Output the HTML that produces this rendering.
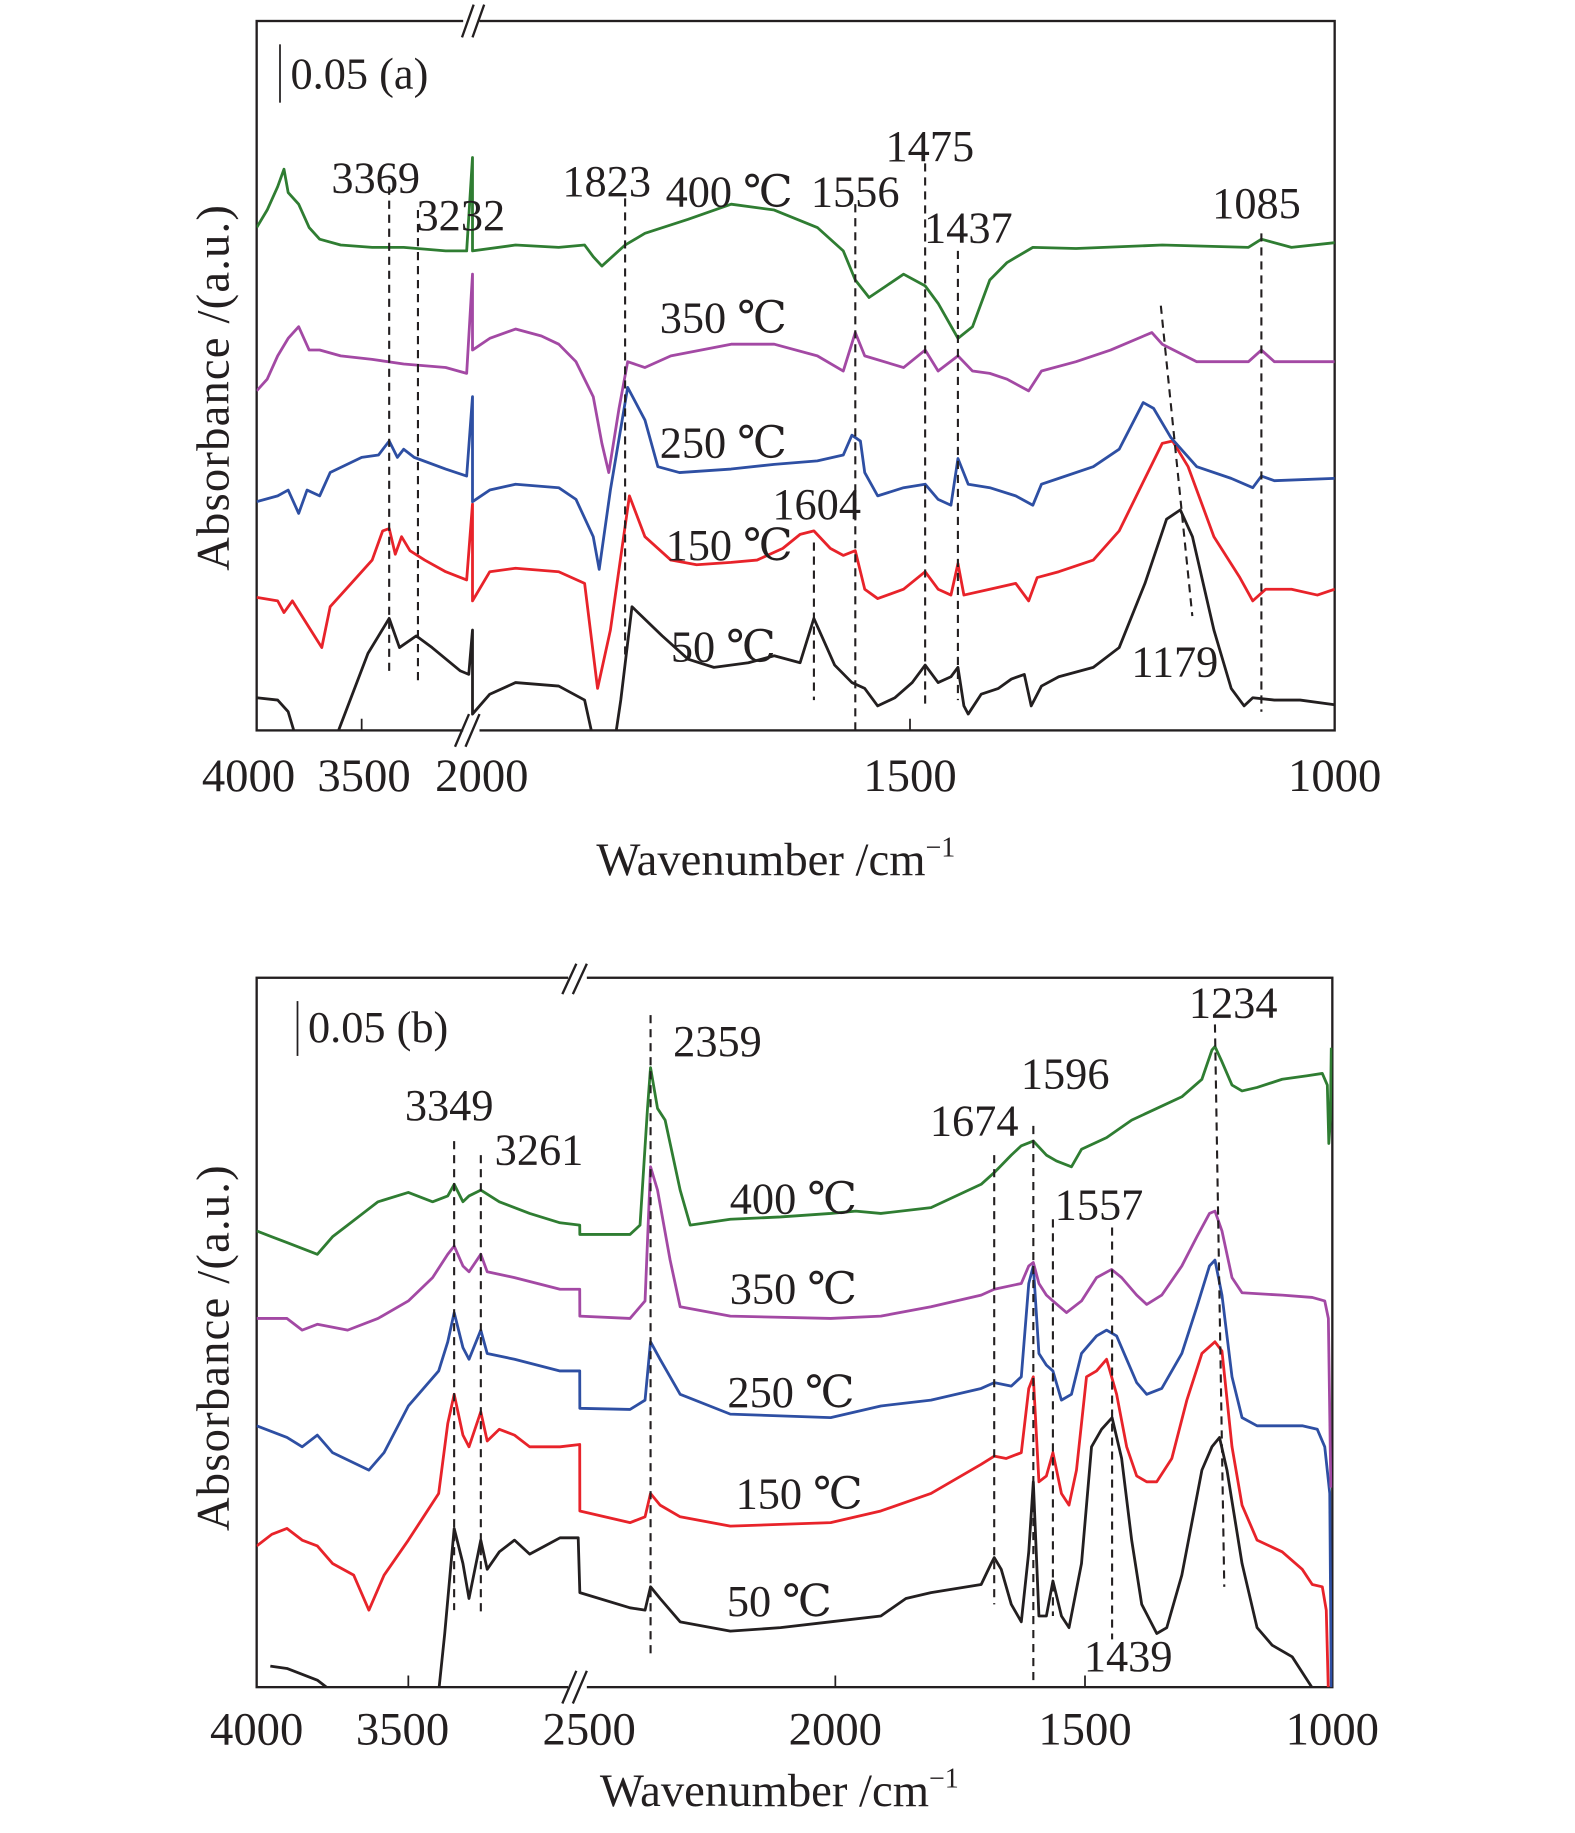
<!DOCTYPE html>
<html><head><meta charset="utf-8"><style>
html,body{margin:0;padding:0;background:#fff}
svg{display:block}
text{font-family:"Liberation Serif","DejaVu Serif",serif;fill:#231f20}
</style></head><body>
<svg id="fig" xmlns="http://www.w3.org/2000/svg" width="1575" height="1833" viewBox="0 0 1350 1571" preserveAspectRatio="none">
<defs>
<clipPath id="clipA"><rect x="220" y="18" width="924" height="608"/></clipPath>
<clipPath id="clipB"><rect x="220" y="838" width="922" height="608"/></clipPath>
</defs>
<g id="panelA">
<rect x="220" y="18" width="924" height="608" fill="none" stroke="#231f20" stroke-width="2"/>
<g id="seriesA" clip-path="url(#clipA)"></g>
<g id="dashA"></g>
<line x1="310" y1="626" x2="310" y2="616" stroke="#231f20" stroke-width="1.5"/>
<line x1="780" y1="626" x2="780" y2="616" stroke="#231f20" stroke-width="1.5"/>
<g><rect x="397" y="12" width="14" height="12" fill="#fff"/><line x1="396" y1="32" x2="406" y2="4" stroke="#231f20" stroke-width="2"/><line x1="405" y1="32" x2="415" y2="4" stroke="#231f20" stroke-width="2"/></g>
<g><rect x="397" y="620" width="14" height="12" fill="#fff"/><line x1="390" y1="640" x2="402" y2="612" stroke="#231f20" stroke-width="2"/><line x1="399" y1="640" x2="411" y2="612" stroke="#231f20" stroke-width="2"/></g>
<line x1="240" y1="38" x2="240" y2="88" stroke="#231f20" stroke-width="1.5"/>
<text x="249" y="76" font-size="38">0.05 (a)</text>
<g font-size="40" text-anchor="middle">
<text x="213" y="678">4000</text>
<text x="312" y="678">3500</text>
<text x="413" y="678">2000</text>
<text x="780" y="678">1500</text>
<text x="1144" y="678">1000</text>
</g>
<text x="665" y="750" font-size="40" text-anchor="middle">Wavenumber /cm<tspan font-size="24" dy="-16">−1</tspan></text>
<text transform="translate(196,332) rotate(-90)" font-size="40" text-anchor="middle" letter-spacing="1">Absorbance /(a.u.)</text>
<g font-size="38" text-anchor="middle">
<text x="322" y="165">3369</text>
<text x="395" y="197">3232</text>
<text x="520" y="168">1823</text>
<text x="625" y="177">400 ℃</text>
<text x="733" y="177">1556</text>
<text x="797" y="138">1475</text>
<text x="830" y="208">1437</text>
<text x="1077" y="187">1085</text>
<text x="620" y="285">350 ℃</text>
<text x="620" y="392">250 ℃</text>
<text x="700" y="445">1604</text>
<text x="625" y="480">150 ℃</text>
<text x="620" y="567">50 ℃</text>
<text x="1007" y="580">1179</text>
</g>
</g>
<g id="panelB">
<rect x="220" y="838" width="922" height="608" fill="none" stroke="#231f20" stroke-width="2"/>
<g id="seriesB" clip-path="url(#clipB)"></g>
<g id="dashB"></g>
<line x1="350" y1="1446" x2="350" y2="1436" stroke="#231f20" stroke-width="1.5"/>
<line x1="716" y1="1446" x2="716" y2="1436" stroke="#231f20" stroke-width="1.5"/>
<line x1="930" y1="1446" x2="930" y2="1436" stroke="#231f20" stroke-width="1.5"/>
<g><rect x="487" y="832" width="16" height="12" fill="#fff"/><line x1="482" y1="852" x2="494" y2="826" stroke="#231f20" stroke-width="2"/><line x1="491" y1="852" x2="503" y2="826" stroke="#231f20" stroke-width="2"/></g>
<g><rect x="487" y="1440" width="16" height="12" fill="#fff"/><line x1="482" y1="1460" x2="494" y2="1432" stroke="#231f20" stroke-width="2"/><line x1="491" y1="1460" x2="503" y2="1432" stroke="#231f20" stroke-width="2"/></g>
<line x1="255" y1="858" x2="255" y2="905" stroke="#231f20" stroke-width="1.5"/>
<text x="264" y="893" font-size="38">0.05 (b)</text>
<g font-size="40" text-anchor="middle">
<text x="220" y="1495">4000</text>
<text x="345" y="1495">3500</text>
<text x="505" y="1495">2500</text>
<text x="716" y="1495">2000</text>
<text x="930" y="1495">1500</text>
<text x="1142" y="1495">1000</text>
</g>
<text x="668" y="1548" font-size="40" text-anchor="middle">Wavenumber /cm<tspan font-size="24" dy="-16">−1</tspan></text>
<text transform="translate(196,1155) rotate(-90)" font-size="40" text-anchor="middle" letter-spacing="1">Absorbance /(a.u.)</text>
<g font-size="38" text-anchor="middle">
<text x="385" y="960">3349</text>
<text x="462" y="998">3261</text>
<text x="615" y="905">2359</text>
<text x="835" y="973">1674</text>
<text x="913" y="933">1596</text>
<text x="942" y="1045">1557</text>
<text x="967" y="1432">1439</text>
<text x="1057" y="872">1234</text>
<text x="680" y="1040">400 ℃</text>
<text x="680" y="1117">350 ℃</text>
<text x="678" y="1206">250 ℃</text>
<text x="685" y="1293">150 ℃</text>
<text x="668" y="1385">50 ℃</text>
</g>
</g>
</svg>
<script>
// Absorbance values in units of 0.001 a.u. above each panel's baseline
const a50_w=[4000,3900,3850,3800,3700,3610,3470,3369,3320,3240,3165,3030,2990,2000,2000,1980,1950,1900,1870,1858,1840,1828,1815,1780,1750,1720,1680,1650,1620,1604,1580,1560,1545,1530,1510,1490,1475,1460,1445,1437,1430,1425,1410,1390,1375,1360,1352,1340,1320,1280,1250,1220,1195,1179,1165,1140,1120,1105,1095,1070,1040,1000];
const a50_v=[28,26,16,-14,-14,0,66,96,71,81,71,51,48,86,14,31,41,38,26,-14,-34,26,106,81,61,54,58,64,58,96,56,41,36,21,28,41,56,41,46,54,21,14,31,36,44,48,21,38,46,54,71,126,181,189,166,86,36,21,28,26,26,22];
const a150_w=[4000,3900,3870,3830,3690,3650,3550,3450,3400,3369,3340,3310,3270,3200,3100,3000,2000,2000,1980,1950,1900,1870,1855,1840,1818,1800,1770,1740,1700,1670,1640,1620,1604,1585,1570,1556,1545,1530,1500,1475,1460,1445,1437,1430,1400,1370,1355,1345,1320,1280,1250,1220,1200,1188,1170,1140,1110,1095,1080,1050,1020,1000];
const a150_v=[114,111,101,111,71,106,126,146,171,173,151,166,154,146,136,129,194,111,136,139,136,126,36,86,201,166,146,142,144,146,156,168,171,156,150,154,121,113,121,136,121,116,143,116,121,126,111,131,136,146,171,216,246,248,226,166,131,111,121,121,116,121];
const a250_w=[4000,3900,3850,3800,3760,3700,3650,3500,3420,3369,3330,3300,3250,3100,3000,2000,2000,1980,1950,1900,1880,1860,1853,1840,1820,1800,1785,1760,1700,1650,1600,1570,1560,1550,1545,1530,1500,1475,1460,1445,1437,1425,1400,1370,1350,1340,1320,1280,1250,1222,1210,1190,1160,1120,1095,1085,1070,1000];
const a250_v=[196,201,206,186,206,201,221,234,236,248,234,241,234,224,218,286,196,206,211,208,198,166,138,206,294,266,226,221,224,228,231,236,253,248,221,201,208,211,198,193,233,211,208,201,193,211,216,226,241,281,276,251,226,216,208,218,214,216];
const a350_w=[4000,3950,3900,3850,3800,3750,3700,3600,3450,3300,3100,3000,2000,2000,1980,1950,1920,1900,1880,1860,1850,1842,1830,1820,1800,1770,1700,1650,1600,1570,1556,1545,1500,1475,1460,1437,1420,1400,1380,1355,1340,1300,1260,1212,1200,1160,1100,1085,1070,1000];
const a350_v=[291,301,321,336,346,326,326,321,318,314,311,306,391,326,336,344,338,331,316,286,246,221,276,316,311,321,331,331,321,308,341,321,311,326,308,321,308,306,301,291,308,316,326,341,331,316,316,326,316,316];
const a400_w=[4000,3950,3900,3870,3850,3800,3750,3700,3600,3450,3300,3100,3000,2000,2000,1950,1900,1870,1860,1850,1823,1800,1750,1700,1650,1600,1570,1556,1540,1520,1500,1475,1460,1437,1420,1400,1380,1350,1300,1200,1100,1085,1050,1000];
const a400_v=[431,446,466,481,461,451,431,421,416,414,414,411,411,491,411,416,414,416,406,398,416,426,438,451,446,431,411,386,371,381,391,381,366,336,346,386,401,414,413,416,414,421,414,418];

const b50_w=[3955,3900,3800,3750,3400,3380,3349,3320,3300,3261,3240,3200,3150,3100,3050,3000,2940,2500,2400,2370,2359,2340,2300,2200,2100,2000,1900,1850,1800,1700,1680,1674,1660,1640,1620,1605,1596,1585,1570,1557,1540,1525,1500,1480,1460,1439,1420,1400,1380,1350,1330,1300,1260,1240,1225,1210,1180,1150,1120,1080,1050,1035];
const b50_v=[18,16,6,-4,-4,46,136,106,76,126,101,116,126,114,121,128,128,81,68,66,86,76,56,48,51,56,61,76,81,88,106,111,101,71,56,116,176,61,61,91,61,51,106,206,221,231,196,126,71,46,51,96,186,206,214,186,106,51,36,26,6,-4];
const b150_w=[4000,3950,3900,3850,3800,3750,3680,3630,3580,3500,3450,3400,3370,3349,3320,3300,3261,3240,3200,3150,3100,3000,2935,2500,2400,2370,2359,2340,2300,2200,2000,1900,1800,1700,1674,1650,1620,1605,1596,1585,1570,1557,1540,1525,1510,1490,1470,1450,1430,1410,1390,1370,1350,1320,1290,1260,1234,1220,1200,1180,1150,1100,1060,1040,1020,1012,1008];
const b150_v=[121,131,136,126,121,106,96,66,96,126,146,166,226,251,216,206,236,211,221,216,206,206,208,151,141,146,166,156,146,138,141,151,166,191,198,196,201,256,266,176,181,201,166,156,186,266,271,281,251,206,181,176,176,196,246,286,296,288,206,156,126,116,101,88,86,66,-4];
const b250_w=[4000,3900,3850,3800,3750,3630,3580,3500,3400,3370,3349,3320,3300,3261,3240,3150,3000,2935,2500,2400,2370,2359,2340,2300,2200,2000,1900,1800,1700,1674,1640,1620,1605,1596,1585,1570,1557,1540,1520,1500,1470,1450,1430,1410,1390,1370,1340,1300,1270,1245,1234,1220,1200,1180,1150,1100,1060,1030,1015,1005,1002];
const b250_v=[224,214,206,216,201,186,201,241,271,296,321,291,281,306,286,281,271,271,239,238,246,296,281,251,234,231,241,246,256,261,258,266,346,361,286,276,271,246,251,286,301,306,301,281,261,251,256,286,326,361,366,336,266,231,224,224,224,221,206,166,-4];
const b350_w=[4000,3900,3850,3800,3700,3600,3500,3420,3370,3349,3320,3300,3261,3240,3150,3000,2935,2500,2400,2370,2359,2345,2320,2300,2200,2000,1900,1800,1700,1674,1620,1605,1596,1585,1570,1557,1530,1500,1470,1440,1420,1390,1370,1340,1300,1270,1245,1234,1220,1200,1180,1100,1040,1015,1008,1003];
const b350_v=[316,316,306,311,306,316,331,351,371,378,361,356,371,356,351,341,341,318,316,331,446,426,366,326,318,316,318,326,336,341,346,361,364,346,336,331,321,331,351,358,351,336,328,336,361,386,406,408,391,351,338,336,334,331,316,171];
const b400_w=[4000,3950,3900,3850,3800,3750,3700,3650,3600,3500,3420,3370,3349,3320,3300,3261,3200,3100,3000,2935,2500,2400,2380,2365,2359,2345,2330,2300,2280,2200,2100,2000,1950,1900,1800,1700,1674,1640,1620,1596,1570,1550,1520,1500,1450,1400,1350,1300,1260,1240,1234,1220,1200,1180,1150,1100,1050,1020,1010,1007,1004,1002];
const b400_v=[391,386,381,376,371,386,396,406,416,424,416,421,431,416,421,426,416,406,398,396,388,388,396,496,531,496,486,426,396,401,403,406,408,406,411,431,441,456,464,468,456,451,446,461,471,486,496,506,521,546,549,536,516,511,514,521,524,526,516,466,486,548];

const peaksA=[3369,3232,1823,1604,1556,1475,1437,1085];
const peaksB=[3349,3261,2359,1674,1596,1557,1439,1234];

function xA(w){return w>2000 ? 220+(4000-w)*0.18 : 405+(2000-w)*0.739;}
function yA(v){return 626-v;}
function xB(w){return w>2500 ? 220+(4000-w)*0.26 : 497+(2500-w)*0.43;}
function yB(v){return 1446-v;}

const NS='http://www.w3.org/2000/svg';
function drawSeries(gid,ws,vs,xf,yf,color,name){
  let d='';
  for(let i=0;i<ws.length;i++){d+=(i?'L':'M')+xf(ws[i]).toFixed(1)+' '+yf(vs[i]).toFixed(1);}
  const p=document.createElementNS(NS,'path');
  p.setAttribute('d',d);p.setAttribute('fill','none');p.setAttribute('stroke',color);
  p.setAttribute('stroke-width','2.4');p.setAttribute('stroke-linejoin','round');
  
  
  document.getElementById(gid).appendChild(p);
}
const C={k:'#231f20',r:'#e8232a',b:'#2e4fa3',p:'#a349a4',g:'#2f7d32'};
drawSeries('seriesA',a50_w,a50_v,xA,yA,C.k,'series-a-50c');
drawSeries('seriesA',a150_w,a150_v,xA,yA,C.r,'series-a-150c');
drawSeries('seriesA',a250_w,a250_v,xA,yA,C.b,'series-a-250c');
drawSeries('seriesA',a350_w,a350_v,xA,yA,C.p,'series-a-350c');
drawSeries('seriesA',a400_w,a400_v,xA,yA,C.g,'series-a-400c');
drawSeries('seriesB',b50_w,b50_v,xB,yB,C.k,'series-b-50c');
drawSeries('seriesB',b150_w,b150_v,xB,yB,C.r,'series-b-150c');
drawSeries('seriesB',b250_w,b250_v,xB,yB,C.b,'series-b-250c');
drawSeries('seriesB',b350_w,b350_v,xB,yB,C.p,'series-b-350c');
drawSeries('seriesB',b400_w,b400_v,xB,yB,C.g,'series-b-400c');

function dash(gid,x1,y1,x2,y2,name){
  const l=document.createElementNS(NS,'line');
  l.setAttribute('x1',x1);l.setAttribute('y1',y1);l.setAttribute('x2',x2);l.setAttribute('y2',y2);
  l.setAttribute('stroke','#231f20');l.setAttribute('stroke-width','1.8');l.setAttribute('stroke-dasharray','7,5');
  
  
  document.getElementById(gid).appendChild(l);
}
const spanA={3369:[160,578],3232:[180,588],1823:[170,565],1604:[465,600],1556:[175,630],1475:[140,605],1437:[215,600],1085:[200,610]};
peaksA.forEach(w=>{const s=spanA[w];dash('dashA',xA(w),s[0],xA(w),s[1],'peak-line-'+w);});
dash('dashA',995,262,1022,528,'peak-line-1179');
const spanB={3349:[978,1380],3261:[990,1385],2359:[870,1420],1674:[990,1375],1596:[965,1440],1557:[1045,1385],1439:[1052,1405],1234:[878,1360]};
peaksB.forEach(w=>{const s=spanB[w];const x=xB(w);dash('dashB',x,s[0],w===1234?x+8:x,s[1],'peak-line-'+w);});
</script>
</body></html>
